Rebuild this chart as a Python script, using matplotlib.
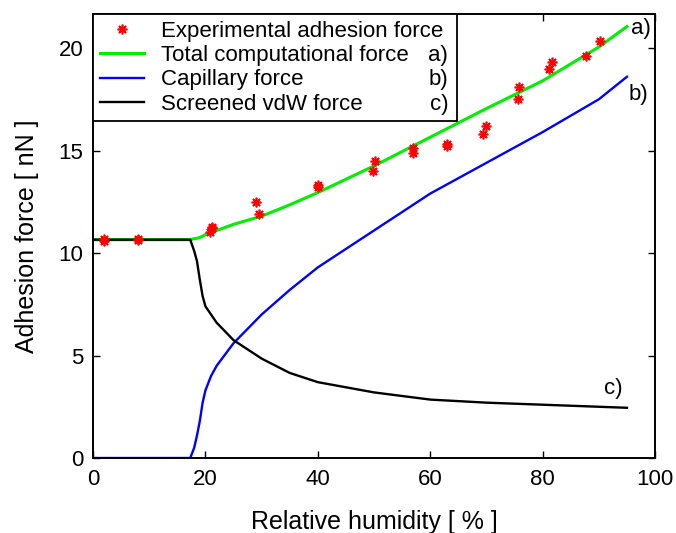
import numpy as np
import matplotlib as mpl
mpl.use("Agg")
import matplotlib.pyplot as plt

mpl.rcParams.update({"font.family": "sans-serif",
                     "font.sans-serif": ["Liberation Sans", "DejaVu Sans"],
                     "font.size": 16})

# measured adhesion force vs relative humidity
rh_exp = [2, 2, 8, 8, 20.8, 21.1, 21.2, 29, 29.5, 40, 40, 49.9, 50.1, 56.9, 57,
          62.9, 63, 69.4, 70, 75.7, 75.8, 81.2, 81.7, 87.7, 90.2]
f_exp = [10.6, 10.7, 10.65, 10.7, 11.05, 11.25, 11.2, 12.5, 11.9, 13.2, 13.3, 14.0, 14.5,
         14.9, 15.1, 15.3, 15.2, 15.8, 16.2, 17.5, 18.1, 19.0, 19.3, 19.6, 20.35]

# model curves
rh = [0, 17.3, 18, 18.5, 19, 19.5, 20, 21, 22, 25, 30, 35, 40, 50, 60, 70, 80, 90, 95]
f_total = [10.65, 10.65, 10.7, 10.72, 10.76, 10.82, 10.9, 11.0, 11.1, 11.4, 11.8, 12.35,
           12.95, 14.25, 15.65, 17.05, 18.4, 20.05, 21.05]
f_cap = [0, 0, 0.5, 1.1, 1.8, 2.7, 3.3, 4.0, 4.5, 5.6, 7.0, 8.2, 9.3, 11.1, 12.9, 14.4,
         15.9, 17.5, 18.6]
f_vdw = [10.65, 10.65, 10.1, 9.6, 8.7, 7.9, 7.4, 7.0, 6.6, 5.75, 4.85, 4.15, 3.7, 3.2,
         2.85, 2.7, 2.6, 2.5, 2.45]

fig = plt.figure(figsize=(6.76, 5.33), dpi=100)
ax = fig.add_axes([0.1376, 0.1407, 0.8314, 0.833])

ax.plot(rh_exp, f_exp, ls="none", marker=(8, 2, 0), color="red", ms=7, mew=1.2,
        label="Experimental adhesion force", zorder=4)
ax.plot(rh, f_total, color="#00ee00", lw=2.2, label="Total computational force")
ax.plot(rh, f_cap, color="blue", lw=1.7, label="Capillary force")
ax.plot(rh, f_vdw, color="black", lw=1.7, label="Screened vdW force")

ax.text(95.8, 20.95, "a)", fontsize=16, va="center")
ax.text(95.3, 17.75, "b)", fontsize=16, va="center")
ax.text(91.0, 3.4, "c)", fontsize=16, va="center")

ax.set_xlim(0, 100); ax.set_ylim(0, 21.66)
ax.set_xticks([0, 20, 40, 60, 80, 100]); ax.set_yticks([0, 5, 10, 15, 20])
ax.tick_params(direction="in", top=True, right=True, length=5, width=1, labelsize=16)
ax.tick_params(axis="x", pad=8)
ax.tick_params(axis="y", pad=7)
for s in ax.spines.values():
    s.set_linewidth(1.4)
ax.set_xlabel("Relative humidity [ % ]", fontsize=18, labelpad=14)
ax.set_ylabel("Adhesion force [ nN ]", fontsize=18, labelpad=14)

leg = ax.legend(loc="upper left", bbox_to_anchor=(0, 1, 0.648, 0), mode="expand",
                fancybox=False, edgecolor="black", framealpha=1, fontsize=16,
                borderaxespad=0, handlelength=2.0, handletextpad=0.75, borderpad=0.3,
                labelspacing=0.15, numpoints=1)
leg.get_frame().set_linewidth(1.3)

# right-aligned curve tags inside the legend rows
fig.canvas.draw()
frame = leg.get_frame().get_window_extent()
inv = fig.transFigure.inverted()
for t, tag in zip(leg.get_texts()[1:], ["a)", "b)", "c)"]):
    bb = t.get_window_extent()
    x, y = inv.transform((frame.x1 - 9, (bb.y0 + bb.y1) / 2))
    fig.text(x, y, tag, fontsize=16, ha="right", va="center", zorder=10)

fig.savefig("out.png", dpi=100)
